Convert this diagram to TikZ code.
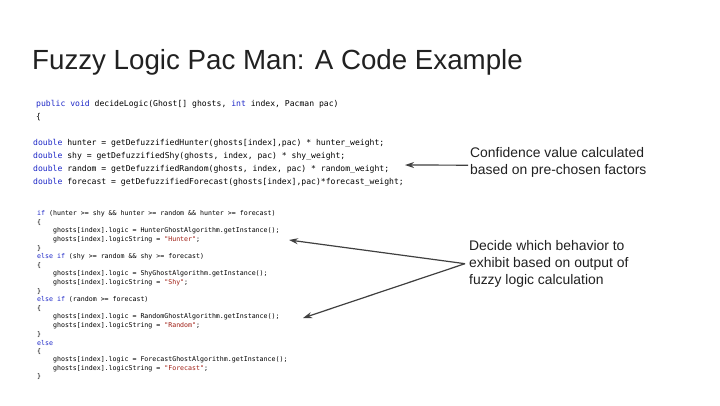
\documentclass[tikz,border=0pt]{standalone}
\usepackage{fontspec}
\setmainfont{Liberation Sans}
\setmonofont{DejaVu Sans Mono}
\usetikzlibrary{arrows.meta}
\definecolor{kw}{RGB}{30,40,200}
\definecolor{st}{RGB}{160,30,20}
\definecolor{tx}{RGB}{33,33,33}
\newcommand{\kw}[1]{\textcolor{kw}{#1}}
\newcommand{\st}[1]{\textcolor{st}{#1}}
\tikzset{
  codeA/.style={anchor=west,inner sep=0,font=\ttfamily\fontsize{8.1}{9}\selectfont,text=black},
  codeB/.style={anchor=west,inner sep=0,font=\ttfamily\fontsize{6.6}{7}\selectfont,text=black},
  note/.style={anchor=north west,inner sep=0,align=left,font=\fontsize{13.9}{17}\selectfont,text=tx},
  arr/.style={draw=black!75,line width=1.2pt,-{Stealth[length=9pt,width=6pt]}}
}
\begin{document}
\begin{tikzpicture}[x=1pt,y=-1pt]
\useasboundingbox (0,0) rectangle (720,405);
\fill[white] (0,0) rectangle (720,405);
\node[anchor=base west,inner sep=0,font=\fontsize{27.7}{32}\selectfont,text=tx] (title) at (32,69) {Fuzzy Logic Pac Man: A Code Example};
\node[codeA] (c0) at (36,104) {\kw{public} \kw{void} decideLogic(Ghost[] ghosts, \kw{int} index, Pacman pac)};
\node[codeA] (c1) at (36,117) {\{};
\node[codeA] (c2) at (33,143) {\kw{double} hunter = getDefuzzifiedHunter(ghosts[index],pac) * hunter\_weight;};
\node[codeA] (c3) at (33,156) {\kw{double} shy = getDefuzzifiedShy(ghosts, index, pac) * shy\_weight;};
\node[codeA] (c4) at (33,169) {\kw{double} random = getDefuzzifiedRandom(ghosts, index, pac) * random\_weight;};
\node[codeA] (c5) at (33,182) {\kw{double} forecast = getDefuzzifiedForecast(ghosts[index],pac)*forecast\_weight;};
\foreach \i/\t in {
 0/{\kw{if} (hunter >= shy \&\& hunter >= random \&\& hunter >= forecast)},
 1/{\{},
 2/{\ \ \ \ ghosts[index].logic = HunterGhostAlgorithm.getInstance();},
 3/{\ \ \ \ ghosts[index].logicString = \st{"Hunter"};},
 4/{\}},
 5/{\kw{else} \kw{if} (shy >= random \&\& shy >= forecast)},
 6/{\{},
 7/{\ \ \ \ ghosts[index].logic = ShyGhostAlgorithm.getInstance();},
 8/{\ \ \ \ ghosts[index].logicString = \st{"Shy"};},
 9/{\}},
 10/{\kw{else} \kw{if} (random >= forecast)},
 11/{\{},
 12/{\ \ \ \ ghosts[index].logic = RandomGhostAlgorithm.getInstance();},
 13/{\ \ \ \ ghosts[index].logicString = \st{"Random"};},
 14/{\}},
 15/{\kw{else}},
 16/{\{},
 17/{\ \ \ \ ghosts[index].logic = ForecastGhostAlgorithm.getInstance();},
 18/{\ \ \ \ ghosts[index].logicString = \st{"Forecast"};},
 19/{\}}}
  \node[codeB] (d\i) at (37,{214+\i*8.58}) {\t};
\node[note] (n1) at (470,147) {Confidence value calculated\\based on pre-chosen factors};
\node[note] (n2) at (469,240) {Decide which behavior to\\exhibit based on output of\\fuzzy logic calculation};
\coordinate (t1) at (405,165);
\coordinate (t2) at (289,240);
\coordinate (t3) at (303,318);
\draw[arr] (n1.west) ++(-2,3) -- (t1);
\draw[arr] (n2.west) ++(-4,0) coordinate (s2) -- (t2);
\draw[arr] (s2) -- (t3);
\end{tikzpicture}
\end{document}
